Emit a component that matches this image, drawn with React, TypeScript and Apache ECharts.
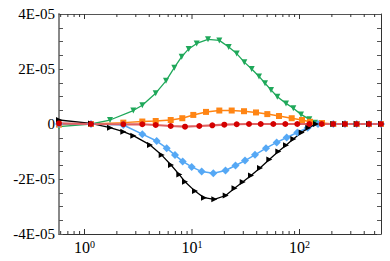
import React, { useEffect, useRef } from 'react';
import * as echarts from 'echarts';

const X_MIN = 0.579;
const X_MAX = 573;
const Y_MIN = -40; // units of 1E-06
const Y_MAX = 40;

const xMajorTicks = [1, 10, 100];
const xMinorTicks = [0.6, 0.7, 0.8, 0.9, 2, 3, 4, 5, 6, 7, 8, 9, 20, 30, 40, 50, 60, 70, 80, 90, 200, 300, 400, 500];

// values in units of 1E-06
const greenData = [
  [0.579, -0.98], [1.149, 0], [1.726, 1.45], [2.844, 4.9], [3.449, 6.8], [4.596, 11.2], [5.731, 15.7],
  [6.844, 20.5], [8.02, 24.5], [9.318, 27.3], [11.06, 29.3], [14.09, 30.8], [17.95, 30.4], [21.95, 28.0],
  [26.05, 25.6], [30.65, 22.5], [35.93, 20.0], [42.01, 17.3], [47.76, 14.8], [54.32, 12.4], [62.17, 9.9],
  [74.91, 7.5], [87.58, 5.7], [103.3, 3.5], [123.4, 1.7], [139.4, 0.5], [160.9, 0], [206.3, 0], [265, 0],
  [340.5, 0], [443.1, 0], [573, 0],
];

const orangeData = [
  [0.579, -0.2], [1.149, 0], [2.296, 0.5], [3.449, 0.9], [4.596, 1.1], [6.338, 1.45], [8.124, 2.1],
  [10.28, 3.3], [13.5, 4.4], [17.95, 4.9], [23.4, 4.9], [30.46, 4.65], [39.38, 4.2], [50.18, 3.6],
  [64.47, 2.9], [84.63, 2.1], [105.5, 1.45], [125.3, 0.8], [161.9, 0.35], [206.3, 0], [265, 0],
  [340.5, 0], [443.1, 0], [573, 0],
];

const blueData = [
  [0.579, 0], [1.149, 0], [2.296, -0.36], [3.449, -3.7], [4.695, -6.2], [5.817, -8.8], [6.948, -11.3],
  [8.194, -13.6], [9.936, -15.6], [12.31, -17.3], [15.78, -17.9], [20.49, -16.9], [25.39, -15.1],
  [31.12, -13.3], [38.55, -11.2], [48.8, -8.8], [61.38, -6.7], [76.04, -4.9], [95.39, -3.1],
  [119.2, -1.35], [148.6, 0], [206.3, 0], [265, 0], [340.5, 0], [443.1, 0], [573, 0],
];

const blackData = [
  [0.579, 1.45], [1.149, 0.2], [1.726, -1.35], [2.296, -2.8], [2.844, -4.25], [4.068, -7.6],
  [5.226, -11.3], [6.378, -14.9], [7.617, -18.4], [8.608, -21.0], [10.66, -24.4], [12.93, -26.8],
  [16.13, -27.4], [20.58, -26.0], [24.85, -23.4], [29.62, -21.1], [35.39, -18.7], [42.92, -16.0],
  [52.38, -12.9], [63.52, -10.0], [74.91, -7.7], [87.58, -5.45], [104.8, -3.1], [120.8, -1.35],
  [142.4, 0], [206.3, 0], [265, 0], [340.5, 0], [443.1, 0], [573, 0],
];

const redData = [
  [0.579, 0.2], [1.149, 0], [2.296, -0.1], [3.449, -0.1], [4.596, -0.36], [6.338, -0.73], [8.608, -0.98],
  [11.69, -0.73], [15.45, -0.47], [19.98, -0.25], [26.05, -0.1], [33.9, 0], [43.57, 0], [57.06, 0],
  [73.8, 0], [95.39, 0], [123.4, 0], [160.9, 0], [206.3, 0], [265, 0], [340.5, 0], [443.1, 0], [573, 0],
];

const FONT = '"Liberation Serif", "Times New Roman", serif';

export default function App() {
  const ref = useRef<HTMLDivElement>(null);

  useEffect(() => {
    if (!ref.current) return;
    const chart = echarts.init(ref.current, undefined, { renderer: 'svg' });

    const tickSeries = {
      type: 'custom',
      silent: true,
      clip: false,
      z: 10,
      data: [
        ...xMajorTicks.map((v) => [v, 0, 1]),
        ...xMinorTicks.map((v) => [v, 0, 0]),
      ],
      renderItem: (params: any, api: any) => {
        const v = api.value(0);
        const major = api.value(2) === 1;
        const len = major ? 5 : 3;
        const pB = api.coord([v, Y_MIN]);
        const pT = api.coord([v, Y_MAX]);
        const style = { stroke: '#333', lineWidth: 1 };
        return {
          type: 'group',
          children: [
            { type: 'line', shape: { x1: pB[0], y1: pB[1], x2: pB[0], y2: pB[1] - len }, style },
            { type: 'line', shape: { x1: pT[0], y1: pT[1], x2: pT[0], y2: pT[1] + len }, style },
          ],
        };
      },
    };

    const lineSeries = (data: number[][], color: string, lineColor: string, width: number, symbol: string, size: number, rotate = 0) => ({
      type: 'line',
      data,
      symbol,
      symbolSize: size,
      symbolRotate: rotate,
      showAllSymbol: true,
      lineStyle: { color: lineColor, width },
      itemStyle: { color, borderWidth: 0 },
      emphasis: { disabled: true },
    });

    chart.setOption({
      animation: false,
      grid: { left: 59, right: 9, top: 14, bottom: 27 },
      xAxis: [
        {
          type: 'log',
          logBase: 10,
          min: X_MIN,
          max: X_MAX,
          splitNumber: 3,
          position: 'bottom',
          axisLine: { show: true, onZero: false, lineStyle: { color: '#333', width: 1 } },
          axisTick: { show: false },
          splitLine: { show: false },
          axisLabel: {
            margin: 5,
            showMinLabel: false,
            showMaxLabel: false,
            formatter: (v: number) => {
              const l = Math.log10(v);
              const e = Math.round(l);
              if (Math.abs(l - e) > 1e-6) return '';
              return `{b|10}{s|${e}}`;
            },
            rich: {
              b: { fontFamily: FONT, fontSize: 16, color: '#000' },
              s: { fontFamily: FONT, fontSize: 10, color: '#000', verticalAlign: 'top', lineHeight: 10 },
            },
          },
        },
        {
          type: 'log',
          logBase: 10,
          min: X_MIN,
          max: X_MAX,
          splitNumber: 3,
          position: 'top',
          axisLine: { show: true, onZero: false, lineStyle: { color: '#555', width: 1 } },
          axisTick: { show: false },
          axisLabel: { show: false },
          splitLine: { show: false },
        },
      ],
      yAxis: [
        {
          type: 'value',
          min: Y_MIN,
          max: Y_MAX,
          interval: 20,
          position: 'left',
          axisLine: { show: true, onZero: false, lineStyle: { color: '#888', width: 2 } },
          axisTick: { show: true, inside: true, length: 4, lineStyle: { color: '#555' } },
          minorTick: { show: true, splitNumber: 4, length: 4, lineStyle: { color: '#555' } },
          splitLine: { show: false },
          axisLabel: {
            margin: 4,
            fontFamily: FONT,
            fontSize: 15,
            color: '#000',
            formatter: (v: number) => (v === 0 ? '0' : `${Math.round(v / 10)}E-05`),
          },
        },
        {
          type: 'value',
          min: Y_MIN,
          max: Y_MAX,
          interval: 20,
          position: 'right',
          axisLine: { show: true, onZero: false, lineStyle: { color: '#333', width: 1 } },
          axisTick: { show: true, inside: true, length: 4, lineStyle: { color: '#555' } },
          minorTick: { show: true, splitNumber: 4, length: 4, lineStyle: { color: '#555' } },
          splitLine: { show: false },
          axisLabel: { show: false },
        },
      ],
      series: [
        tickSeries,
        lineSeries(greenData, '#1fa85a', '#1fa85a', 1.3, 'triangle', 6, 180),
        lineSeries(orangeData, '#ff8514', '#ff8514', 1.5, 'rect', 6),
        lineSeries(blueData, '#55a8f5', '#55a8f5', 1.5, 'diamond', 8),
        lineSeries(blackData, '#000', '#000', 1.3, 'triangle', 6, -90),
        lineSeries(redData, '#d40000', '#e06060', 2.2, 'circle', 6),
      ],
    });

    return () => chart.dispose();
  }, []);

  return (
    <div
      ref={ref}
      style={{ position: 'fixed', left: 0, top: 0, width: 390, height: 261, background: '#fff' }}
    />
  );
}
